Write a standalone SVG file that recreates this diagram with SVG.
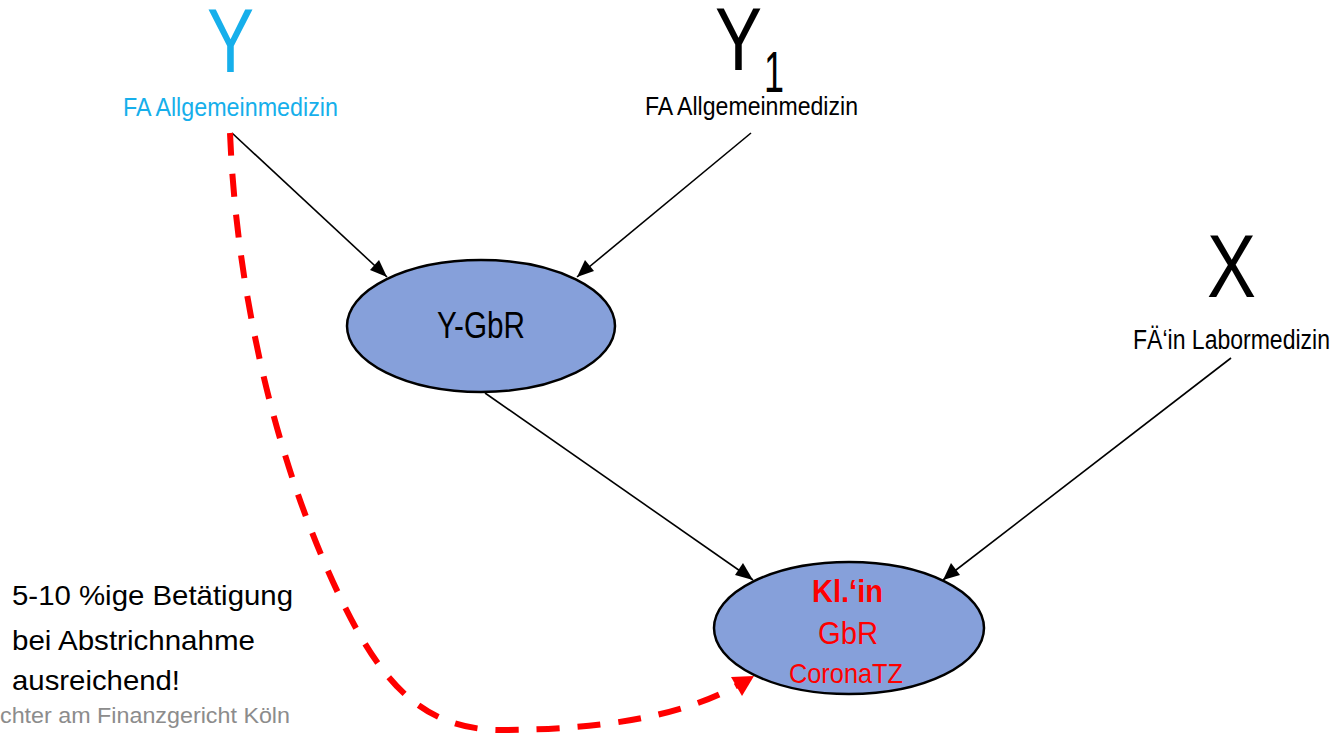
<svg xmlns="http://www.w3.org/2000/svg" width="1334" height="734" viewBox="0 0 1334 734">
<defs>
<style>
text{font-family:"Liberation Sans",Arial,sans-serif;}
.blk{fill:#000;}
.blue{fill:#16AFEB;}
.red{fill:#FF0000;}
.node{fill:#86A0DA;stroke:#000;stroke-width:2.5;}
.conn{stroke:#000;stroke-width:1.6;fill:none;marker-end:url(#ah);}
.dash{stroke:#FF0000;stroke-width:6;fill:none;stroke-dasharray:23 18;}
</style>
<marker id="ah" viewBox="0 0 10 10" refX="10" refY="5" markerWidth="11" markerHeight="9" markerUnits="userSpaceOnUse" orient="auto" preserveAspectRatio="none">
<path d="M0,0 L10,5 L0,10 z" fill="#000"/>
</marker>
</defs>
<rect width="1334" height="734" fill="#fff"/>

<g id="connectors">
<line class="conn" x1="232" y1="133" x2="387" y2="277" style="marker-end:none"/>
<path d="M387,277 L370,270 L379,260 z" fill="#000"/>
<line class="conn" x1="751" y1="133" x2="577" y2="277" style="marker-end:none"/>
<path d="M577,277 L585,260 L594,271 z" fill="#000"/>
<line class="conn" x1="485" y1="393" x2="753" y2="580" style="marker-end:none"/>
<path d="M753,580 L735,575 L743,563 z" fill="#000"/>
<line class="conn" x1="1231" y1="358" x2="943" y2="580" style="marker-end:none"/>
<path d="M943,580 L951,563 L960,575 z" fill="#000"/>
<path class="dash" d="M230,133 C236,280 270,450 340,597 C380,680 420,728 497,730 C600,730 680,717 738,685"/>
<path d="M754,676 L731,677 L742,696 z" fill="#FF0000"/>
</g>

<g id="node-Y">
<text class="blue" x="207" y="72" font-size="91" textLength="47" lengthAdjust="spacingAndGlyphs">Y</text>
<text class="blue" x="123" y="116" font-size="26" textLength="215" lengthAdjust="spacingAndGlyphs">FA Allgemeinmedizin</text>
</g>

<g id="node-Y1">
<text class="blk" x="715" y="70" font-size="89" textLength="47" lengthAdjust="spacingAndGlyphs">Y</text>
<text class="blk" x="764" y="92" font-size="58" textLength="20" lengthAdjust="spacingAndGlyphs">1</text>
<text class="blk" x="645" y="115" font-size="26" textLength="213" lengthAdjust="spacingAndGlyphs">FA Allgemeinmedizin</text>
</g>

<g id="node-X">
<text class="blk" x="1207" y="297" font-size="89" textLength="49" lengthAdjust="spacingAndGlyphs">X</text>
<text class="blk" x="1133" y="349" font-size="27" textLength="197" lengthAdjust="spacingAndGlyphs">FÄ‘in Labormedizin</text>
</g>

<g id="node-YGbR">
<ellipse class="node" cx="481" cy="326" rx="134" ry="66"/>
<text class="blk" x="437" y="338" font-size="36" textLength="88" lengthAdjust="spacingAndGlyphs">Y-GbR</text>
</g>

<g id="node-KlinGbR">
<ellipse class="node" cx="849" cy="628" rx="135" ry="66"/>
<text class="red" x="812" y="602" font-size="31" font-weight="bold" textLength="71" lengthAdjust="spacingAndGlyphs">Kl.‘in</text>
<text class="red" x="818" y="644" font-size="32" textLength="60" lengthAdjust="spacingAndGlyphs">GbR</text>
<text class="red" x="789" y="683" font-size="28" textLength="114" lengthAdjust="spacingAndGlyphs">CoronaTZ</text>
</g>

<g id="note">
<text class="blk" x="12" y="605" font-size="28" textLength="281" lengthAdjust="spacingAndGlyphs">5-10 %ige Betätigung</text>
<text class="blk" x="12" y="650" font-size="28" textLength="243" lengthAdjust="spacingAndGlyphs">bei Abstrichnahme</text>
<text class="blk" x="12" y="690" font-size="28" textLength="168" lengthAdjust="spacingAndGlyphs">ausreichend!</text>
</g>

<g id="footer">
<text x="0" y="723" font-size="22" fill="#8C8C8C" textLength="290" lengthAdjust="spacingAndGlyphs">chter am Finanzgericht Köln</text>
</g>
</svg>
